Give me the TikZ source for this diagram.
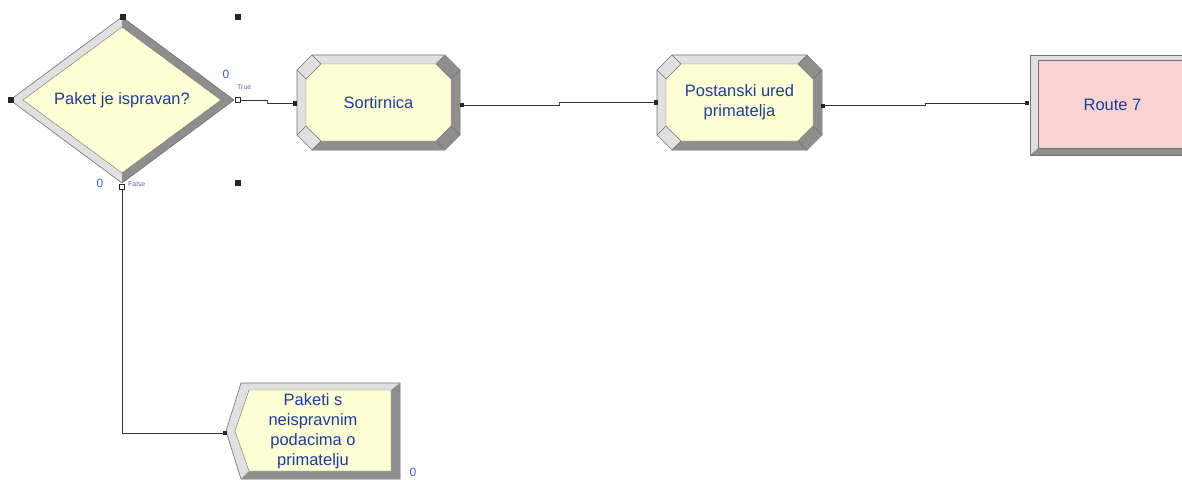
\documentclass[tikz,border=0pt]{standalone}
\usepackage{fontspec}
\setmainfont{Liberation Sans}
\usetikzlibrary{calc,backgrounds,shapes.geometric}
\definecolor{face}{HTML}{FFFFD6}
\definecolor{pinkface}{HTML}{F8D3D1}
\definecolor{lightbev}{HTML}{E0E0E0}
\definecolor{darkbev}{HTML}{8E8E8E}
\definecolor{edgec}{HTML}{707070}
\definecolor{txt}{HTML}{1E3C9A}
\definecolor{zero}{HTML}{3A5FD0}
\definecolor{porttxt}{HTML}{4F6FB0}

% octagon bevel: #1 node, #2 half width, #3 half height, #4 chamfer, #5 bevel
\newcommand{\octbev}[5]{%
\begin{scope}[on background layer, shift={(#1.center)}]
 \pgfmathsetmacro\oW{#2}\pgfmathsetmacro\oH{#3}\pgfmathsetmacro\oC{#4}
 \pgfmathsetmacro\iW{#2-#5}\pgfmathsetmacro\iH{#3-#5}
 \fill[lightbev,draw=edgec,line width=0.6pt] (-\oW+\oC,-\oH) -- (\oW-\oC,-\oH) -- (\oW,-\oH+\oC) -- (\oW,\oH-\oC) -- (\oW-\oC,\oH) -- (-\oW+\oC,\oH) -- (-\oW,\oH-\oC) -- (-\oW,-\oH+\oC) -- cycle;
 \fill[darkbev] (\oW-\oC,-\oH) -- (\oW,-\oH+\oC) -- (\oW,\oH-\oC) -- (\oW-\oC,\oH) -- (-\oW+\oC,\oH) -- (-\iW+\oC,\iH) -- (\iW-\oC,\iH) -- (\iW,\iH-\oC) -- (\iW,-\iH+\oC) -- (\iW-\oC,-\iH) -- cycle;
 \draw[edgec,line width=0.4pt] (-\oW+\oC,-\oH) -- (-\iW+\oC,-\iH) (\oW-\oC,-\oH) -- (\iW-\oC,-\iH) (\oW,-\oH+\oC) -- (\iW,-\iH+\oC) (\oW,\oH-\oC) -- (\iW,\iH-\oC) (\oW-\oC,\oH) -- (\iW-\oC,\iH) (-\oW+\oC,\oH) -- (-\iW+\oC,\iH) (-\oW,\oH-\oC) -- (-\iW,\iH-\oC) (-\oW,-\oH+\oC) -- (-\iW,-\iH+\oC);
 \fill[face,draw=edgec,line width=0.4pt] (-\iW+\oC,-\iH) -- (\iW-\oC,-\iH) -- (\iW,-\iH+\oC) -- (\iW,\iH-\oC) -- (\iW-\oC,\iH) -- (-\iW+\oC,\iH) -- (-\iW,\iH-\oC) -- (-\iW,-\iH+\oC) -- cycle;
\end{scope}}

\begin{document}
\begin{tikzpicture}[x=1pt,y=-1pt,
  lbl/.style={font=\fontsize{16.5}{20}\selectfont, text=txt, align=center, inner sep=0pt},
  box/.style={lbl, rectangle, minimum width=163pt, minimum height=95pt},
  conn/.style={draw=black!80, line width=0.9pt},
  portin/.style={fill=black!85, minimum size=4.5pt, inner sep=0pt, rectangle},
  handle/.style={fill=black!85, minimum size=6pt, inner sep=0pt, rectangle},
  zerolbl/.style={font=\fontsize{12}{13}\selectfont, text=zero, inner sep=0pt},
  portlbl/.style={font=\fontsize{7}{8}\selectfont, text=porttxt, inner sep=0pt, anchor=west},
]
\useasboundingbox (0,0) rectangle (1182,479);

% ---- decision diamond
\node[lbl, shape=diamond, minimum width=224pt, minimum height=166pt] (d) at (122,100) {Paket je ispravan?};
\begin{scope}[on background layer, shift={(d.center)}]
 \fill[lightbev] (-112,0) -- (0,-83) -- (0,83) -- cycle;
 \fill[darkbev] (112,0) -- (0,-83) -- (0,83) -- cycle;
 \draw[edgec,line width=0.6pt] (-112,0) -- (0,-83) -- (112,0) -- (0,83) -- cycle;
 \fill[face,draw=edgec,line width=0.4pt] (-99,0) -- (0,-73) -- (99,0) -- (0,73) -- cycle;
\end{scope}

% ---- process boxes
\node[box] (s) at (378.5,102.5) {Sortirnica};
\octbev{s}{81.5}{47.5}{15}{9}
\node[box] (p) at (739.5,102.5) {Postanski ured\\primatelja};
\octbev{p}{82.5}{47.5}{15}{9}

% ---- route box
\node[box, minimum width=165pt, minimum height=100pt] (r) at (1112.5,105) {Route 7};
\begin{scope}[on background layer, shift={(r.center)}]
 \fill[lightbev,draw=edgec,line width=0.6pt] (-82.5,-50) rectangle (82.5,50);
 \fill[darkbev] (-82.5,50) -- (82.5,50) -- (82.5,-50) -- (75,-45) -- (75,43) -- (-74,43) -- cycle;
 \fill[pinkface,draw=edgec,line width=0.4pt] (-74,-45) rectangle (75,43);
\end{scope}

% ---- dispose box
\node[lbl, rectangle, minimum width=174pt, minimum height=96pt] (k) at (313,431) {Paketi s\\neispravnim\\podacima o\\primatelju};
\begin{scope}[on background layer, shift={(k.center)}]
 \fill[lightbev,draw=edgec,line width=0.6pt] (-87,0) -- (-72,-48) -- (87,-48) -- (87,48) -- (-72,48) -- cycle;
 \fill[darkbev] (87,-48) -- (87,48) -- (-72,48) -- (-64,40) -- (78,40) -- (78,-41) -- cycle;
 \fill[face,draw=edgec,line width=0.4pt] (-78,0) -- (-64,-41) -- (78,-41) -- (78,40) -- (-64,40) -- cycle;
\end{scope}

% ---- ports and connectors
\coordinate (t-out) at ([xshift=5pt]d.east);
\coordinate (f-out) at ([yshift=-5pt]d.south);
\coordinate (s-in) at ([xshift=-2pt,yshift=-1pt]s.west);
\coordinate (s-out) at ([xshift=2pt,yshift=-2.5pt]s.east);
\coordinate (p-in) at ([xshift=-2pt]p.west);
\coordinate (p-out) at ([xshift=2pt,yshift=-3pt]p.east);
\coordinate (r-in) at ([xshift=-3pt,yshift=2pt]r.west);
\coordinate (k-in) at ([xshift=-1pt,yshift=-2pt]k.west);

\coordinate (m1) at ($(t-out)!.5!(s-in)$);
\coordinate (m2) at ($(s-out)!.5!(p-in)$);
\coordinate (m3) at ($(p-out)!.5!(r-in)$);
\draw[conn] (t-out) -| (m1) |- (s-in);
\draw[conn] (s-out) -| (m2) |- (p-in);
\draw[conn] (p-out) -| (m3) |- (r-in);
\draw[conn] (f-out) |- (k-in);

% port hooks on the decision
\draw[black!85,line width=1pt,fill=white] ([xshift=1pt,yshift=-2.5pt]d.east) rectangle ([xshift=6pt,yshift=2.5pt]d.east);
\draw[black!85,line width=1pt,fill=white] ([xshift=-2.5pt,yshift=-1pt]d.south) rectangle ([xshift=2.5pt,yshift=-6pt]d.south);

% entry / exit marks
\node[portin] (q1) at (s-in) {};
\node[portin] (q2) at (p-in) {};
\node[portin] (q3) at (r-in) {};
\node[portin] (q4) at (k-in) {};
\node[portin, minimum size=4pt] (q5) at (s-out) {};
\node[portin, minimum size=4pt] (q6) at (p-out) {};

% selection handles
\node[handle] (h1) at (123,17) {};
\node[handle] (h2) at (238,17) {};
\node[handle] (h3) at (238,183) {};
\node[handle] (h4) at (11,100) {};

% labels
\node[zerolbl] (z1) at (226,74) {0};
\node[zerolbl] (z2) at (100,183) {0};
\node[zerolbl] (z3) at (413,472) {0};
\node[portlbl] (lt) at (237,87) {True};
\node[portlbl, text=black!60!blue!60] (lf) at (128,184) {False};
\end{tikzpicture}
\end{document}
